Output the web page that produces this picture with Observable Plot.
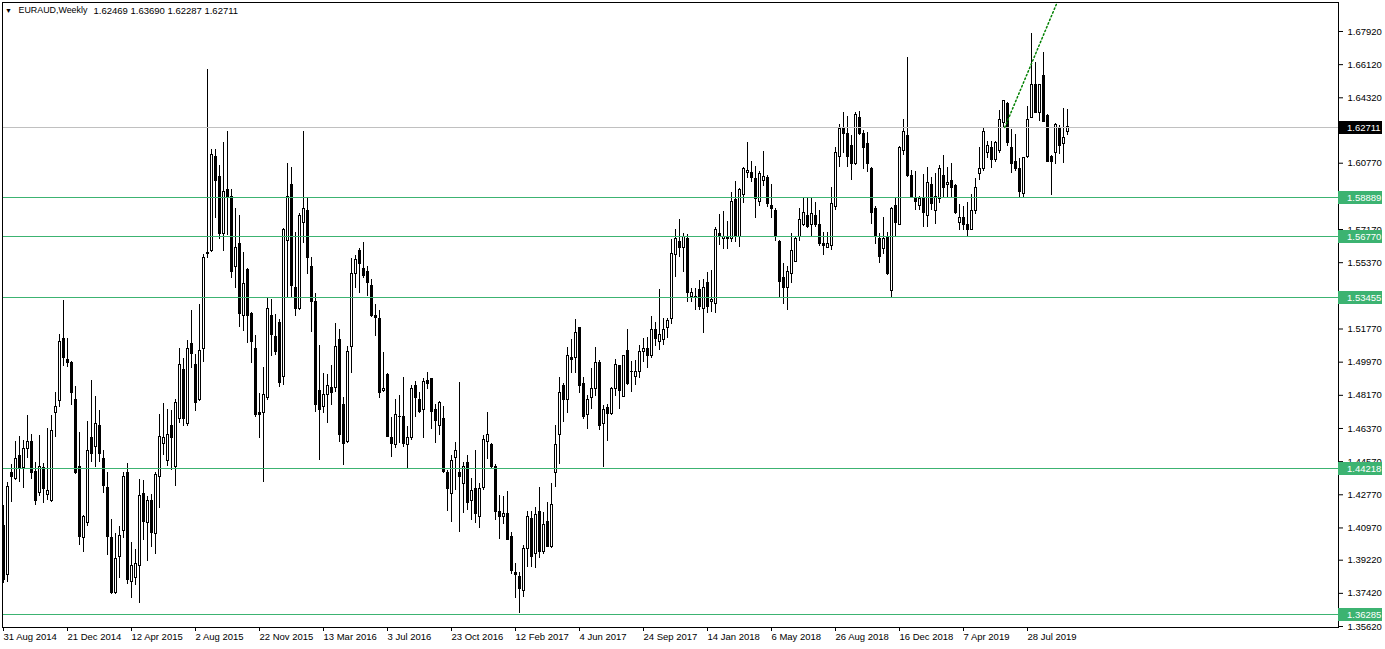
<!DOCTYPE html>
<html>
<head>
<meta charset="utf-8">
<script src="https://cdn.jsdelivr.net/npm/d3@7"></script>
<script src="https://cdn.jsdelivr.net/npm/@observablehq/plot@0.6"></script>
<style>
  html, body { margin: 0; padding: 0; background: #ffffff; }
  #chart { width: 1385px; height: 649px; }
</style>
</head>
<body>
<div id="chart"></div>
<script>
// ---- Data: EURAUD weekly candles (bar index 0 = week of 31 Aug 2014) ----
const open = [
  1.4110,1.3839,1.4398,1.4365,1.4490,1.4420,1.4528,1.4561,1.4403,1.4289,
  1.4420,1.4278,1.4241,1.4719,1.4784,1.5125,1.5011,1.4990,1.4794,1.4430,
  1.4045,1.4126,1.4583,1.4539,1.4653,1.4469,1.4316,1.4040,1.3746,1.3937,
  1.4078,1.4393,1.3806,1.3823,1.3893,1.4284,1.4126,1.4241,1.4062,1.4371,
  1.4555,1.4463,1.4653,1.4430,1.4686,1.4957,1.4659,1.5098,1.4984,1.4789,
  1.5066,1.5582,1.5598,1.6108,1.6000,1.5695,1.5929,1.5891,1.5516,1.5641,
  1.5250,1.5495,1.5256,1.5071,1.4719,1.4719,1.4805,1.5250,1.5131,1.5207,
  1.4914,1.5652,1.5961,1.5397,1.5283,1.5755,1.5820,1.5516,1.5326,1.4838,
  1.4751,1.4821,1.4859,1.4859,1.5115,1.4762,1.4566,1.5077,1.5478,1.5598,
  1.5500,1.5484,1.5413,1.5245,1.5234,1.4838,1.4930,1.4588,1.4545,1.4702,
  1.4702,1.4545,1.4583,1.4865,1.4789,1.4740,1.4897,1.4903,1.4735,1.4648,
  1.4691,1.4398,1.4284,1.4479,1.4393,1.4338,1.4452,1.4241,1.4311,1.4154,
  1.4316,1.4561,1.4550,1.4430,1.4186,1.4154,1.4175,1.4050,1.3850,1.3833,
  1.3757,1.3985,1.4148,1.3953,1.4186,1.3964,1.4132,1.3996,1.4393,1.4599,
  1.4865,1.4789,1.5022,1.5017,1.5180,1.4881,1.4708,1.4800,1.4849,1.4995,
  1.4659,1.4746,1.4713,1.4854,1.4974,1.4810,1.5055,1.4946,1.4914,1.4941,
  1.5050,1.5066,1.5033,1.5169,1.5104,1.5115,1.5185,1.5234,1.5576,1.5647,
  1.5619,1.5663,1.5348,1.5353,1.5386,1.5288,1.5424,1.5321,1.5315,1.5695,
  1.5663,1.5674,1.5668,1.5875,1.5674,1.5907,1.6026,1.6026,1.5989,1.5864,
  1.5978,1.5994,1.5842,1.5820,1.5647,1.5456,1.5402,1.5478,1.5543,1.5674,
  1.5739,1.5788,1.5739,1.5793,1.5744,1.5636,1.5619,1.5625,1.5837,1.6108,
  1.6260,1.6238,1.6168,1.6070,1.6325,1.6233,1.6179,1.6048,1.5831,1.5668,
  1.5609,1.5674,1.5381,1.5847,1.5744,1.6141,1.6227,1.6010,1.5880,1.5847,
  1.5885,1.5793,1.5961,1.5815,1.5880,1.6005,1.5961,1.5978,1.5951,1.5755,
  1.5777,1.5739,1.5717,1.5815,1.6016,1.6043,1.6135,1.6162,1.6097,1.6141,
  1.6293,1.6396,1.6162,1.6081,1.6048,1.5912,1.6108,1.6325,1.6499,1.6347,
  1.6548,1.6331,1.6113,1.6130,1.6260,1.6179,1.62469
];
const high = [
  1.4219,1.4343,1.4441,1.4566,1.4593,1.4572,1.4708,1.4604,1.4452,1.4599,
  1.4447,1.4637,1.4708,1.4832,1.5147,1.5332,1.5125,1.5000,1.4865,1.4615,
  1.4165,1.4675,1.4897,1.4810,1.4735,1.4517,1.4398,1.4143,1.4067,1.4105,
  1.4398,1.4447,1.4018,1.3980,1.4360,1.4354,1.4268,1.4278,1.4398,1.4713,
  1.4773,1.4740,1.4735,1.4794,1.5071,1.5017,1.5115,1.5277,1.5039,1.5310,
  1.5582,1.6586,1.6151,1.6151,1.6065,1.6189,1.6249,1.5934,1.5831,1.5793,
  1.5592,1.5505,1.5267,1.5142,1.4827,1.4968,1.5343,1.5337,1.5256,1.5229,
  1.5723,1.6075,1.6054,1.5701,1.5804,1.6249,1.5885,1.5565,1.5370,1.5087,
  1.4935,1.4930,1.4979,1.5207,1.5174,1.4805,1.5082,1.5560,1.5576,1.5614,
  1.5647,1.5516,1.5446,1.5310,1.5277,1.5050,1.4935,1.4697,1.4794,1.4816,
  1.4914,1.4648,1.4870,1.4892,1.4832,1.4908,1.4941,1.4908,1.4767,1.4784,
  1.4757,1.4409,1.4490,1.4561,1.4886,1.4452,1.4490,1.4365,1.4517,1.4338,
  1.4599,1.4724,1.4555,1.4441,1.4273,1.4268,1.4295,1.4072,1.3904,1.3855,
  1.4002,1.4186,1.4186,1.4208,1.4316,1.4181,1.4235,1.4338,1.4653,1.4914,
  1.4881,1.5077,1.5120,1.5229,1.5185,1.4914,1.4816,1.4963,1.5077,1.5006,
  1.4762,1.4767,1.4859,1.5011,1.4979,1.5033,1.5174,1.5000,1.5006,1.5087,
  1.5125,1.5131,1.5245,1.5212,1.5391,1.5234,1.5234,1.5663,1.5717,1.5772,
  1.5695,1.5690,1.5397,1.5397,1.5440,1.5446,1.5484,1.5495,1.5728,1.5799,
  1.5815,1.5761,1.5918,1.5978,1.5940,1.6054,1.6189,1.6086,1.6059,1.6032,
  1.6141,1.6010,1.5961,1.5831,1.5657,1.5532,1.5516,1.5695,1.5674,1.5831,
  1.5885,1.5885,1.5885,1.5864,1.5820,1.5701,1.5701,1.5945,1.6162,1.6287,
  1.6352,1.6331,1.6227,1.6352,1.6358,1.6255,1.6244,1.6054,1.5842,1.5695,
  1.5782,1.5701,1.5837,1.5891,1.6168,1.6314,1.6651,1.6037,1.6032,1.5896,
  1.6016,1.6054,1.6000,1.6021,1.6065,1.6119,1.6054,1.6075,1.5961,1.5853,
  1.5842,1.5864,1.5907,1.5994,1.6162,1.6265,1.6195,1.6195,1.6195,1.6363,
  1.6417,1.6407,1.6260,1.6233,1.6103,1.6108,1.6385,1.6781,1.6624,1.6504,
  1.6678,1.6342,1.6119,1.6293,1.6282,1.6374,1.63690
];
const low = [
  1.3796,1.3801,1.4235,1.4354,1.4343,1.4311,1.4474,1.4360,1.4219,1.4268,
  1.4230,1.4246,1.4235,1.4588,1.4751,1.4974,1.4968,1.4762,1.4387,1.4002,
  1.3964,1.4105,1.4452,1.4425,1.4452,1.4284,1.3947,1.3735,1.3735,1.3823,
  1.4040,1.3790,1.3714,1.3785,1.3687,1.4029,1.3915,1.3991,1.3953,1.4203,
  1.4490,1.4430,1.4409,1.4322,1.4664,1.4648,1.4648,1.4963,1.4729,1.4784,
  1.4995,1.5560,1.5592,1.5777,1.5663,1.5598,1.5684,1.5451,1.5397,1.5185,
  1.5163,1.5098,1.4990,1.4697,1.4583,1.4343,1.4789,1.5028,1.5033,1.4859,
  1.4870,1.5343,1.5343,1.5245,1.5277,1.5641,1.5473,1.5158,1.4724,1.4463,
  1.4719,1.4664,1.4762,1.4832,1.4561,1.4436,1.4555,1.4935,1.5397,1.5370,
  1.5451,1.5353,1.5239,1.5136,1.4800,1.4832,1.4588,1.4479,1.4528,1.4555,
  1.4534,1.4420,1.4572,1.4697,1.4719,1.4583,1.4849,1.4632,1.4555,1.4599,
  1.4393,1.4186,1.4126,1.4300,1.4072,1.4175,1.4192,1.4137,1.4121,1.4094,
  1.4300,1.4469,1.4420,1.4137,1.4034,1.4115,1.4029,1.3844,1.3714,1.3633,
  1.3719,1.3882,1.3882,1.3877,1.3931,1.3953,1.3991,1.3985,1.4316,1.4441,
  1.4670,1.4719,1.4935,1.4935,1.4827,1.4686,1.4632,1.4740,1.4810,1.4626,
  1.4425,1.4566,1.4708,1.4810,1.4740,1.4805,1.4870,1.4832,1.4870,1.4908,
  1.4995,1.4963,1.5017,1.5082,1.5060,1.5087,1.5125,1.5201,1.5456,1.5565,
  1.5484,1.5321,1.5321,1.5277,1.5277,1.5152,1.5261,1.5267,1.5261,1.5630,
  1.5609,1.5609,1.5647,1.5647,1.5619,1.5858,1.5994,1.5972,1.5777,1.5842,
  1.5951,1.5837,1.5777,1.5652,1.5348,1.5310,1.5277,1.5424,1.5538,1.5652,
  1.5733,1.5723,1.5674,1.5728,1.5625,1.5576,1.5614,1.5603,1.5820,1.6054,
  1.6130,1.6054,1.5983,1.6065,1.6227,1.6043,1.6026,1.5744,1.5636,1.5532,
  1.5582,1.5467,1.5348,1.5674,1.5739,1.6119,1.6000,1.5885,1.5820,1.5820,
  1.5728,1.5728,1.5820,1.5744,1.5858,1.5891,1.5891,1.5885,1.5799,1.5712,
  1.5712,1.5679,1.5712,1.5799,1.5983,1.6032,1.6103,1.6048,1.6081,1.6130,
  1.6265,1.6168,1.6021,1.6032,1.5891,1.5891,1.6103,1.6320,1.6347,1.6303,
  1.6298,1.6081,1.5902,1.6070,1.6124,1.6075,1.62287
];
const close = [
  1.3812,1.4321,1.4376,1.4474,1.4425,1.4528,1.4561,1.4398,1.4241,1.4430,
  1.4306,1.4300,1.4621,1.4751,1.5104,1.5017,1.4990,1.4827,1.4398,1.4050,
  1.4154,1.4517,1.4496,1.4664,1.4501,1.4327,1.4050,1.3746,1.3926,1.4056,
  1.4376,1.3812,1.3888,1.3904,1.4273,1.4132,1.4246,1.4067,1.4387,1.4593,
  1.4583,1.4599,1.4583,1.4773,1.4984,1.4686,1.5066,1.5039,1.4778,1.5060,
  1.5565,1.5592,1.6124,1.5978,1.5695,1.5923,1.5891,1.5484,1.5614,1.5261,
  1.5419,1.5245,1.5104,1.4708,1.4708,1.4821,1.5288,1.5147,1.5050,1.4886,
  1.5712,1.5896,1.5408,1.5288,1.5788,1.5831,1.5565,1.5326,1.4762,1.4740,
  1.4821,1.4870,1.4827,1.5082,1.4604,1.4555,1.5050,1.5478,1.5554,1.5532,
  1.5462,1.5424,1.5245,1.5239,1.4827,1.4854,1.4593,1.4555,1.4708,1.4697,
  1.4555,1.4588,1.4849,1.4800,1.4724,1.4892,1.4881,1.4724,1.4675,1.4773,
  1.4403,1.4306,1.4463,1.4517,1.4371,1.4430,1.4230,1.4300,1.4175,1.4311,
  1.4572,1.4604,1.4430,1.4186,1.4154,1.4175,1.4034,1.3861,1.3844,1.3768,
  1.3985,1.4154,1.3937,1.4165,1.3964,1.4115,1.3996,1.4219,1.4550,1.4832,
  1.4794,1.5033,1.5011,1.5158,1.4865,1.4697,1.4794,1.4854,1.4995,1.4648,
  1.4735,1.4713,1.4849,1.4979,1.4838,1.5028,1.4876,1.4941,1.4941,1.5050,
  1.5071,1.5033,1.5169,1.5125,1.5142,1.5174,1.5223,1.5582,1.5663,1.5619,
  1.5674,1.5370,1.5370,1.5348,1.5294,1.5402,1.5294,1.5332,1.5717,1.5679,
  1.5679,1.5663,1.5869,1.5674,1.5929,1.6048,1.6032,1.5994,1.5880,1.6016,
  1.6000,1.5858,1.5826,1.5674,1.5430,1.5402,1.5484,1.5598,1.5668,1.5766,
  1.5804,1.5733,1.5799,1.5744,1.5636,1.5625,1.5636,1.5858,1.6130,1.6260,
  1.6238,1.6108,1.6070,1.6336,1.6238,1.6162,1.6075,1.5809,1.5679,1.5570,
  1.5663,1.5478,1.5826,1.5750,1.6162,1.6249,1.6005,1.5891,1.5864,1.5885,
  1.5804,1.5967,1.5858,1.5891,1.6048,1.5940,1.5972,1.5945,1.5804,1.5777,
  1.5744,1.5717,1.5820,1.5945,1.6048,1.6244,1.6173,1.6097,1.6184,1.6314,
  1.6412,1.6184,1.6075,1.6048,1.5918,1.6103,1.6309,1.6504,1.6352,1.6499,
  1.6303,1.6086,1.6086,1.6287,1.6173,1.6216,1.62711
];
const dateLabels = ["31 Aug 2014","21 Dec 2014","12 Apr 2015","2 Aug 2015","22 Nov 2015","13 Mar 2016","3 Jul 2016","23 Oct 2016","12 Feb 2017","4 Jun 2017","24 Sep 2017","14 Jan 2018","6 May 2018","26 Aug 2018","16 Dec 2018","7 Apr 2019","28 Jul 2019"];
const dateLabelBars = [0,16,32,48,64,80,96,112,128,144,160,176,192,208,224,240,256];
const priceTicks = [1.6792,1.6612,1.6432,1.6252,1.6077,1.5897,1.5717,1.5537,1.5357,1.5177,1.4997,1.4817,1.4637,1.4457,1.4277,1.4097,1.3922,1.3742,1.3562];
const levels = [1.58889, 1.56770, 1.53455, 1.44218, 1.36285];
const lastPrice = 1.62711;
const trendLine = [{bar: 250.3, price: 1.6271}, {bar: 263.2, price: 1.6939}];
const symbolLabel = "EURAUD,Weekly";

// ---- Build ----
const candles = open.map((o, i) => ({i, o, h: high[i], l: low[i], c: close[i]}));
const last = candles[candles.length - 1];
const headerNums = [last.o, last.h, last.l, last.c].map(v => v.toFixed(5)).join(" ");

const W = 1385, H = 649;
const mL = 2, mR = 47, mT = 2, mB = 22;
const FONT = "'Liberation Sans', Arial, sans-serif";
const GREEN = "#3cb371";

const chart = Plot.plot({
  width: W, height: H,
  marginLeft: mL, marginRight: mR, marginTop: mT, marginBottom: mB,
  x: {domain: [-0.25, 333.75], label: null},
  y: {domain: [1.35566, 1.69494], label: null},
  style: {fontFamily: FONT, fontSize: "9.5px", background: "#ffffff", color: "#000000", overflow: "visible"},
  marks: [
    // wicks
    Plot.ruleX(candles, {x: "i", y1: "l", y2: "h", stroke: "#000", shapeRendering: "crispEdges"}),
    // bodies
    Plot.rect(candles, {filter: d => d.c > d.o, x1: d => d.i - 0.25, x2: d => d.i + 0.25, y1: "o", y2: "c",
      fill: "#ffffff", stroke: "#000", dx: 0.5, shapeRendering: "crispEdges"}),
    Plot.rect(candles, {filter: d => d.c <= d.o, x1: d => d.i - 0.25, x2: d => d.i + 0.25, y1: "o", y2: "c",
      fill: "#000", stroke: "#000", dx: 0.5, shapeRendering: "crispEdges"}),
    // horizontal levels
    Plot.ruleY(levels, {stroke: GREEN, shapeRendering: "crispEdges"}),
    Plot.ruleY([lastPrice], {stroke: "#c0c0c0", shapeRendering: "crispEdges"}),
    // trend line
    Plot.line(trendLine, {x: "bar", y: "price", stroke: "#008000", strokeDasharray: "1.5,2.5"}),
    // frame
    Plot.frame({stroke: "#000", shapeRendering: "crispEdges"}),
    // axes
    Plot.axisX(dateLabelBars, {anchor: "bottom", tickSize: 4, tickPadding: 2, label: null,
      tickFormat: d => dateLabels[dateLabelBars.indexOf(d)], textAnchor: "start", dx: 0, fontSize: 9.5}),
    Plot.axisY(priceTicks, {anchor: "right", tickSize: 4, tickPadding: 5, label: null,
      tickFormat: d => d.toFixed(5), fontSize: 9.5}),
    // header
    Plot.text(["\u25BC"], {frameAnchor: "top-left", dx: 6, dy: 8, fontSize: 7, textAnchor: "middle", lineAnchor: "middle"}),
    Plot.text([symbolLabel], {frameAnchor: "top-left", dx: 16, dy: 8, textAnchor: "start", lineAnchor: "middle", fontSize: 8.9}),
    Plot.text([headerNums], {frameAnchor: "top-left", dx: 91, dy: 8, textAnchor: "start", lineAnchor: "middle", fontSize: 9.5})
  ]
});

// price label boxes on the right axis, positioned via the plot's own y scale
const ys = chart.scale("y");
const svg = d3.select(chart);
const g = svg.append("g").attr("font-family", FONT).attr("font-size", 9.5).attr("text-anchor", "start");
const boxes = levels.map(v => ({v, fill: GREEN})).concat([{v: lastPrice, fill: "#000000"}]);
boxes.forEach(b => {
  const yy = Math.round(ys.apply(b.v));
  g.append("rect").attr("x", W - mR).attr("y", yy - 6).attr("width", 44).attr("height", 13).attr("fill", b.fill);
  g.append("text").attr("x", W - mR + 9).attr("y", yy + 0.5).attr("dy", "0.35em")
    .attr("text-anchor", "start").attr("fill", "#ffffff").text(b.v.toFixed(5));
});

document.getElementById("chart").appendChild(chart);
</script>
</body>
</html>
